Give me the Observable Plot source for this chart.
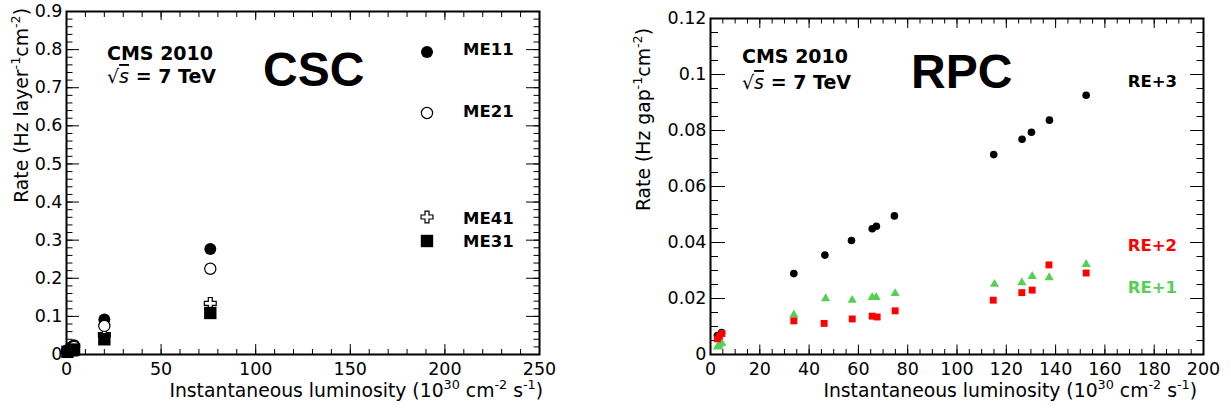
<!DOCTYPE html>
<html><head><meta charset="utf-8">
<script src="https://cdn.jsdelivr.net/npm/d3@7"></script>
<script src="https://cdn.jsdelivr.net/npm/@observablehq/plot@0.6"></script>
<style>
body{margin:0;background:#fff;}
#wrap{position:relative;width:1231px;height:411px;overflow:hidden;background:#fff;}
#csc,#rpc{position:absolute;top:0;}
#csc{left:0}
#rpc{left:615px}
</style></head><body><div id="wrap"><div id="csc"></div><div id="rpc"></div></div>
<script>
// ---------- CSC data (luminosity in 1e30 cm^-2 s^-1, rate in Hz/layer/cm^2) ----------
const cscSeries = ["ME11", "ME21", "ME41", "ME31"];
const me11Lumi = [0.5, 3, 4, 20, 76];
const me11Rate = [0.012, 0.021, 0.024, 0.092, 0.277];
const me21Lumi = [0.5, 3, 4, 20, 76];
const me21Rate = [0.010, 0.017, 0.020, 0.075, 0.225];
const me41Lumi = [0.5, 3, 20, 76];
const me41Rate = [0.008, 0.013, 0.052, 0.134];
const me31Lumi = [0.5, 3, 4, 20, 76];
const me31Rate = [0.007, 0.011, 0.013, 0.040, 0.109];

// ---------- RPC data (rate in Hz/gap/cm^2) ----------
const rpcSeries = ["RE+3", "RE+2", "RE+1"];
const re3Lumi = [2.8, 4.5, 33.8, 46.4, 57.2, 65.6, 67.3, 74.6, 114.9, 126.4, 130.2, 137.5, 152.4];
const re3Rate = [0.0068, 0.0078, 0.0289, 0.0355, 0.0407, 0.0449, 0.0458, 0.0495, 0.0714, 0.0769, 0.0794, 0.0837, 0.0926];
const re2Lumi = [2.8, 3.6, 4.6, 33.8, 46.1, 57.5, 65.6, 67.6, 74.9, 114.7, 126.3, 130.5, 137.3, 152.4];
const re2Rate = [0.0056, 0.0065, 0.0075, 0.0120, 0.0111, 0.0127, 0.0137, 0.0134, 0.0156, 0.0194, 0.0221, 0.0230, 0.0320, 0.0291];
const re1Lumi = [2.8, 3.6, 4.6, 33.8, 46.7, 57.5, 65.6, 67.2, 74.9, 115.2, 126.3, 130.5, 137.4, 152.4];
const re1Rate = [0.0027, 0.0031, 0.0040, 0.0142, 0.0200, 0.0194, 0.0204, 0.0204, 0.0218, 0.0251, 0.0257, 0.0279, 0.0275, 0.0322];

// ---------- tick values ----------
const cscXMajor = [0, 50, 100, 150, 200, 250];
const cscXMinor = d3.range(0, 251, 10);
const cscYMajor = [0, 0.1, 0.2, 0.3, 0.4, 0.5, 0.6, 0.7, 0.8, 0.9];
const cscYMinor = d3.range(0, 46).map(i => i * 0.02);
const rpcXMajor = [0, 20, 40, 60, 80, 100, 120, 140, 160, 180, 200];
const rpcXMinor = d3.range(0, 201, 5);
const rpcYMajor = [0, 0.02, 0.04, 0.06, 0.08, 0.1, 0.12];
const rpcYMinor = d3.range(0, 25).map(i => i * 0.005);

const rows = (xs, ys, s) => xs.map((x, i) => ({lumi: x, rate: ys[i], series: s}));
const GREEN = "#55d055", RED = "#ff0000";
const FONT = "DejaVu Sans, Liberation Sans, sans-serif";
const TICKFONT = 17.5, TITLEFONT = 18.8;

function tickAxes(o) {
  return [
    Plot.axisX({ticks: o.xMajor, tickSize: -o.bMaj, fill: "none", strokeWidth: 1}),
    Plot.axisX({ticks: o.xMinor, tickSize: -o.bMin, fill: "none", strokeWidth: 1}),
    Plot.axisX({anchor: "top", ticks: o.xMajor, tickSize: -o.tMaj, fill: "none", strokeWidth: 1}),
    Plot.axisX({anchor: "top", ticks: o.xMinor, tickSize: -o.tMin, fill: "none", strokeWidth: 1}),
    Plot.axisY({ticks: o.yMajor, tickSize: -o.lMaj, fill: "none", strokeWidth: 1}),
    Plot.axisY({ticks: o.yMinor, tickSize: -o.lMin, fill: "none", strokeWidth: 1}),
    Plot.axisY({anchor: "right", ticks: o.yMajor, tickSize: -o.rMaj, fill: "none", strokeWidth: 1}),
    Plot.axisY({anchor: "right", ticks: o.yMinor, tickSize: -o.rMin, fill: "none", strokeWidth: 1}),
    Plot.axisX({ticks: o.xMajor, tickSize: 0, tickPadding: 8, tickFormat: d => String(d), label: null, fontSize: TICKFONT}),
    Plot.axisY({ticks: o.yMajor, tickSize: 0, tickPadding: 4, tickFormat: d => String(+d.toFixed(4)), label: null, fontSize: TICKFONT}),
    Plot.frame({stroke: "black", strokeWidth: 2})
  ];
}

// text helper: parts = [[string, {sup, italic, over}]]
function addText(svg, opt, parts) {
  const t = d3.select(svg).append("text")
    .attr("x", opt.x).attr("y", opt.y)
    .attr("text-anchor", opt.anchor || "start")
    .attr("font-family", opt.family || FONT)
    .attr("font-size", opt.size)
    .attr("font-weight", opt.weight || "normal")
    .attr("fill", opt.fill || "black");
  if (opt.rotate) t.attr("transform", `rotate(${opt.rotate},${opt.x},${opt.y})`);
  let shift = 0;
  for (const [s, f = {}] of parts) {
    const sp = t.append("tspan").text(s);
    const target = f.sup ? -0.42 * opt.size : 0;
    if (target !== shift) { sp.attr("dy", target - shift); shift = target; }
    if (f.sup) sp.attr("font-size", opt.size * 0.68);
    if (f.italic) sp.attr("font-style", "italic").attr("font-weight", "normal");
    if (f.over) sp.attr("text-decoration", "overline");
  }
  return t;
}
function addSymbol(svg, type, x, y, r, fill, stroke, sw) {
  d3.select(svg).append("path")
    .attr("d", d3.symbol(type, Math.PI * r * r)())
    .attr("transform", `translate(${x},${y})`)
    .attr("fill", fill).attr("stroke", stroke || "none").attr("stroke-width", sw || 0);
}
function cmsLabel(svg, x, y1, y2) {
  addText(svg, {x, y: y1, size: 19, weight: "bold"}, [["CMS 2010"]]);
  addText(svg, {x, y: y2, size: 19, weight: "bold"}, [["√", {italic: true}], ["s", {italic: true, over: true}], [" = 7 TeV"]]);
}
function xTitle(svg, x, y) {
  addText(svg, {x, y, size: TITLEFONT, anchor: "end"},
    [["Instantaneous luminosity (10"], ["30", {sup: true}], [" cm"], ["-2", {sup: true}], [" s"], ["-1", {sup: true}], [")"]]);
}

// ---------- CSC panel ----------
const csc = Plot.plot({
  width: 615, height: 411,
  marginLeft: 66, marginRight: 76, marginTop: 11, marginBottom: 57,
  x: {domain: [0, 250]},
  y: {domain: [0, 0.9]},
  style: {fontFamily: FONT, fontSize: TICKFONT + "px", color: "black", background: "white"},
  marks: [
    ...tickAxes({xMajor: cscXMajor, xMinor: cscXMinor, yMajor: cscYMajor, yMinor: cscYMinor,
      bMaj: 10, bMin: 5, tMaj: 8, tMin: 5, lMaj: 13, lMin: 6.5, rMaj: 14, rMin: 6.5}),
    Plot.dot(rows(me41Lumi, me41Rate, "ME41"), {x: "lumi", y: "rate", symbol: "cross", r: 5, fill: "white", stroke: "black", strokeWidth: 1.2}),
    Plot.dot(rows(me11Lumi, me11Rate, "ME11"), {x: "lumi", y: "rate", symbol: "circle", r: 6, fill: "black"}),
    Plot.dot(rows(me21Lumi, me21Rate, "ME21"), {x: "lumi", y: "rate", symbol: "circle", r: 5.6, fill: "white", stroke: "black", strokeWidth: 1.2}),
    Plot.dot(rows(me31Lumi, me31Rate, "ME31"), {x: "lumi", y: "rate", symbol: "square", r: 7, fill: "black"})
  ]
});
document.getElementById("csc").appendChild(csc);
{
  const svg = csc;
  addText(svg, {x: 28, y: 8, size: TITLEFONT, anchor: "end", rotate: -90},
    [["Rate (Hz layer"], ["-1", {sup: true}], ["cm"], ["-2", {sup: true}], [")"]]);
  xTitle(svg, 543, 397);
  cmsLabel(svg, 107, 60, 83);
  addText(svg, {x: 263, y: 86, size: 48, weight: "bold", family: "Liberation Sans, Arial, sans-serif"}, [["CSC"]]);
  const leg = [
    [cscSeries[0], 52, 55, d3.symbolCircle, 6, "black", null, 0],
    [cscSeries[1], 113, 117, d3.symbolCircle, 5.6, "white", "black", 1.2],
    [cscSeries[2], 217, 224, d3.symbolCross, 5, "white", "black", 1.2],
    [cscSeries[3], 241, 247, d3.symbolSquare, 7, "black", null, 0]
  ];
  for (const [name, sy, ty, type, r, f, s, sw] of leg) {
    addSymbol(svg, type, 427, sy, r, f, s, sw);
    addText(svg, {x: 463, y: ty, size: 16.5, weight: "bold"}, [[name]]);
  }
}

// ---------- RPC panel ----------
const rpc = Plot.plot({
  width: 616, height: 411,
  marginLeft: 95, marginRight: 28, marginTop: 18, marginBottom: 57,
  x: {domain: [0, 200]},
  y: {domain: [0, 0.12]},
  style: {fontFamily: FONT, fontSize: TICKFONT + "px", color: "black", background: "white"},
  marks: [
    ...tickAxes({xMajor: rpcXMajor, xMinor: rpcXMinor, yMajor: rpcYMajor, yMinor: rpcYMinor,
      bMaj: 9.5, bMin: 5, tMaj: 9, tMin: 4.5, lMaj: 15, lMin: 8, rMaj: 14, rMin: 7.5}),
    Plot.dot(rows(re3Lumi, re3Rate, "RE+3"), {x: "lumi", y: "rate", symbol: "circle", r: 3.8, fill: "black"}),
    Plot.dot(rows(re1Lumi, re1Rate, "RE+1"), {x: "lumi", y: "rate", symbol: "triangle", r: 3.4, fill: GREEN}),
    Plot.dot(rows(re2Lumi, re2Rate, "RE+2"), {x: "lumi", y: "rate", symbol: "square", r: 3.9, fill: RED})
  ]
});
document.getElementById("rpc").appendChild(rpc);
{
  const svg = rpc;
  addText(svg, {x: 650 - 615, y: 28, size: TITLEFONT, anchor: "end", rotate: -90},
    [["Rate (Hz gap"], ["-1", {sup: true}], ["cm"], ["-2", {sup: true}], [")"]]);
  xTitle(svg, 1197 - 615, 397);
  cmsLabel(svg, 742 - 615, 63, 89);
  addText(svg, {x: 911 - 615, y: 88, size: 48, weight: "bold", family: "Liberation Sans, Arial, sans-serif"}, [["RPC"]]);
  addText(svg, {x: 1177 - 615, y: 87, size: 16.5, weight: "bold", anchor: "end"}, [[rpcSeries[0]]]);
  addText(svg, {x: 1177 - 615, y: 251, size: 16.5, weight: "bold", anchor: "end", fill: RED}, [[rpcSeries[1]]]);
  addText(svg, {x: 1177 - 615, y: 293, size: 16.5, weight: "bold", anchor: "end", fill: GREEN}, [[rpcSeries[2]]]);
}
</script></body></html>
